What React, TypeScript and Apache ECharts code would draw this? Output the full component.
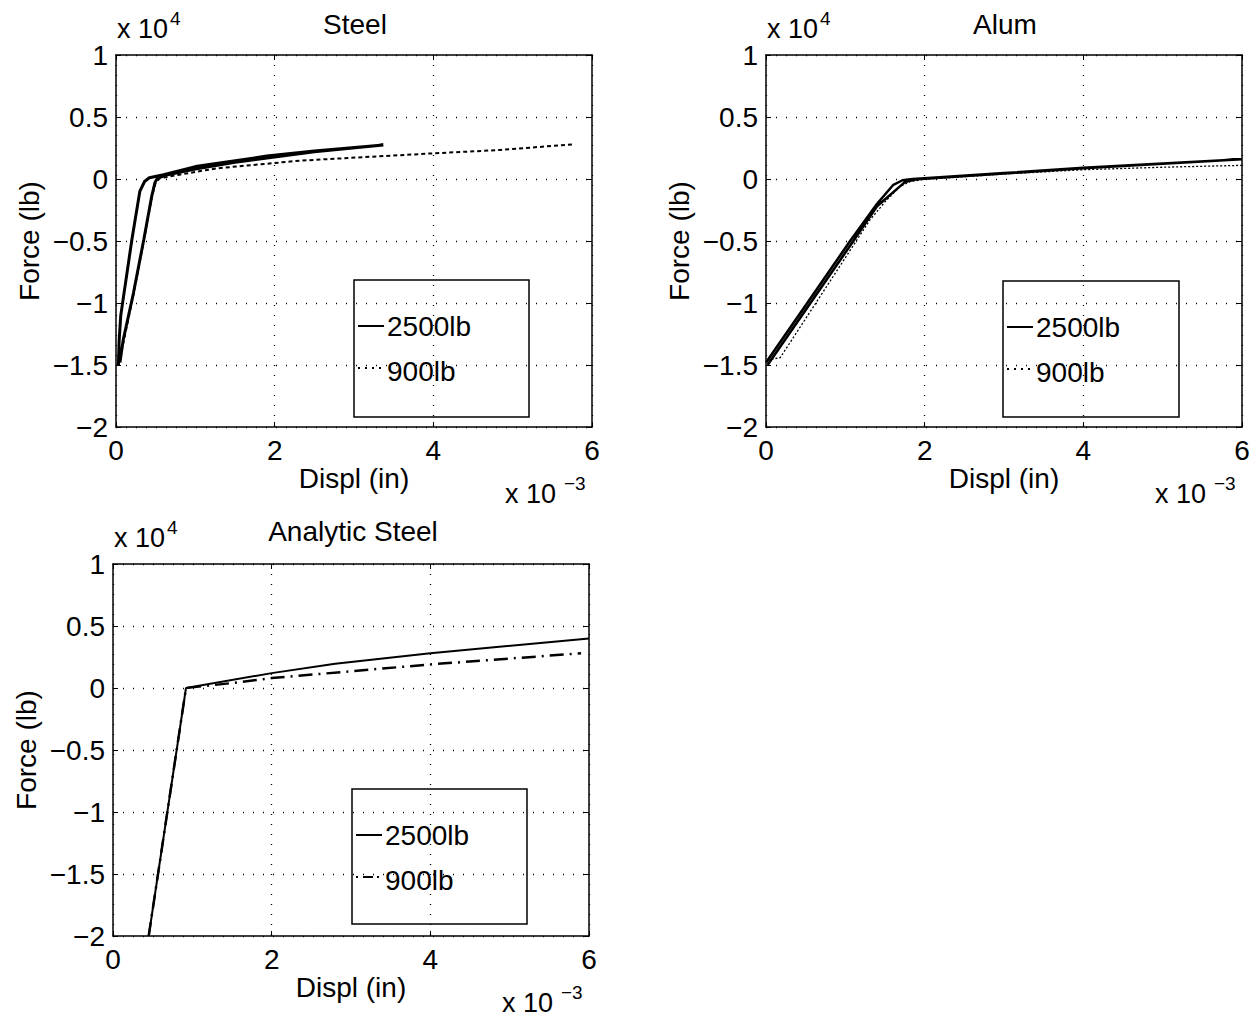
import React, { useEffect, useRef } from "react";
import * as echarts from "echarts";

const FONT = '"Liberation Sans", Arial, Helvetica, sans-serif';

// ---------- Data (x: displacement in inches, y: force in lb) ----------
// Steel, 2500lb (solid loop)
const steel2500X = [0.00003, 0.00004, 0.00006, 0.0002, 0.0003, 0.00036, 0.00042, 0.0006, 0.001, 0.0019, 0.0025, 0.00337, 0.0025, 0.0015, 0.001, 0.00065, 0.00052, 0.00049, 0.00045, 0.00035, 0.00022, 0.00009, 0.00005];
const steel2500Y = [-15000, -13000, -11000, -4900, -1000, -200, 100, 350, 1000, 1850, 2250, 2740, 2200, 1350, 800, 350, 50, -300, -1400, -4900, -9200, -13000, -14800];
// Steel, 900lb (dotted)
const steel900X = [0.00003, 0.0001, 0.00022, 0.00035, 0.00045, 0.0005, 0.00055, 0.0008, 0.00127, 0.00232, 0.004, 0.00484, 0.00577];
const steel900Y = [-15000, -13000, -9300, -5000, -1500, -300, 50, 350, 860, 1480, 2070, 2340, 2800];

// Alum, 2500lb (solid loop)
const alum2500X = [0.0, 0.00052, 0.00106, 0.0014, 0.0016, 0.00172, 0.00185, 0.003, 0.004, 0.005, 0.006, 0.005, 0.004, 0.003, 0.0019, 0.00175, 0.0014, 0.00108, 0.00055, 0.00002];
const alum2500Y = [-14800, -10000, -5000, -2000, -500, -100, 0, 480, 900, 1250, 1600, 1230, 870, 450, -20, -250, -2200, -5200, -10100, -15000];
// Alum, 900lb (dotted)
const alum900X = [0.00002, 0.00018, 0.00071, 0.00131, 0.00152, 0.00169, 0.00182, 0.002, 0.003, 0.004, 0.005, 0.006];
const alum900Y = [-14600, -14400, -9200, -3300, -1700, -600, -200, -30, 400, 750, 950, 1100];

// Analytic Steel
const anaSteel2500X = [0.00045, 0.00092, 0.002, 0.0028, 0.004, 0.006];
const anaSteel2500Y = [-20000, 0, 1200, 1950, 2800, 4000];
const anaSteel900X = [0.00045, 0.00092, 0.0015, 0.002, 0.004, 0.0059];
const anaSteel900Y = [-20000, 0, 400, 800, 1900, 2800];

// Axis ticks
const xTicks = { min: 0, max: 0.006, interval: 0.002 };
const yTicks = { min: -20000, max: 10000, interval: 5000 };

const titles = ["Steel", "Alum", "Analytic Steel"];
const legendNames = ["2500lb", "900lb"];

const zip = (xs: number[], ys: number[]) => xs.map((x, i) => [x, ys[i]]);
const fmtX = (v: number) => String(parseFloat((v * 1000).toFixed(3)));
const fmtY = (v: number) => {
  const s = String(parseFloat((v / 10000).toFixed(3)));
  return s.startsWith("-") ? "\u2212" + s.slice(1) : s;
};

const grids = [
  { left: 116, top: 55, width: 476, height: 372 },
  { left: 766, top: 55, width: 476, height: 372 },
  { left: 113, top: 564, width: 476, height: 372 },
];

export default function App() {
  const ref = useRef<HTMLDivElement>(null);
  useEffect(() => {
    if (!ref.current) return;
    const chart = echarts.init(ref.current, undefined, { renderer: "svg" });

    const xAxes: any[] = [];
    const yAxes: any[] = [];
    grids.forEach((_, i) => {
      const common = {
        type: "value",
        gridIndex: i,
        axisLine: { show: true, onZero: false, lineStyle: { color: "#000", width: 1.5 } },
        axisTick: { show: true, inside: true, length: 5, lineStyle: { color: "#000", width: 1 } },
      };
      xAxes.push({
        ...common,
        ...xTicks,
        position: "bottom",
        name: "Displ (in)",
        nameLocation: "middle",
        nameGap: 28,
        nameTextStyle: { fontSize: 28, color: "#000", fontFamily: FONT },
        axisLabel: { formatter: fmtX, fontSize: 28, color: "#000", fontFamily: FONT, margin: 9 },
        splitLine: { show: true, lineStyle: { color: "#000", type: [1, 9], width: 1.3 } },
      });
      xAxes.push({
        ...common,
        ...xTicks,
        position: "top",
        axisLabel: { show: false },
        splitLine: { show: false },
      });
      yAxes.push({
        ...common,
        ...yTicks,
        position: "left",
        name: "Force (lb)",
        nameLocation: "middle",
        nameGap: 73,
        nameTextStyle: { fontSize: 28, color: "#000", fontFamily: FONT },
        axisLabel: { formatter: fmtY, fontSize: 28, color: "#000", fontFamily: FONT, margin: 8 },
        splitLine: { show: true, lineStyle: { color: "#000", type: [1, 9], width: 1.3 } },
      });
      yAxes.push({
        ...common,
        ...yTicks,
        position: "right",
        axisLabel: { show: false },
        splitLine: { show: false },
      });
    });

    const mk = (name: string, gi: number, data: number[][], lineStyle: any) => ({
      name,
      type: "line",
      xAxisIndex: gi * 2,
      yAxisIndex: gi * 2,
      data,
      showSymbol: false,
      symbol: "none",
      clip: true,
      lineStyle: { color: "#000", ...lineStyle },
    });

    const series = [
      mk(legendNames[0], 0, zip(steel2500X, steel2500Y), { width: 3, type: "solid" }),
      mk(legendNames[1], 0, zip(steel900X, steel900Y), { width: 2, type: [4, 3] }),
      mk(legendNames[0], 1, zip(alum2500X, alum2500Y), { width: 2.5, type: "solid" }),
      mk(legendNames[1], 1, zip(alum900X, alum900Y), { width: 1.3, type: [2, 2] }),
      mk(legendNames[0], 2, zip(anaSteel2500X, anaSteel2500Y), { width: 2, type: "solid" }),
      mk(legendNames[1], 2, zip(anaSteel900X, anaSteel900Y), { width: 2.5, type: [14, 6, 2, 6] }),
    ];

    const txt = (text: string, x: number, y: number, size: number, align = "left") => ({
      type: "text",
      x,
      y,
      style: {
        text,
        fill: "#000",
        font: `${size}px ${FONT}`,
        align,
        verticalAlign: "middle",
        textAlign: align,
        textVerticalAlign: "middle",
      },
    });

    const legendBox = (bx: number, by: number, bw: number, bh: number, dash2: any) => [
      {
        type: "rect",
        shape: { x: bx, y: by, width: bw, height: bh },
        style: { fill: "none", stroke: "#000", lineWidth: 1.5 },
      },
      {
        type: "line",
        shape: { x1: bx + 4, y1: by + 46, x2: bx + 30, y2: by + 46 },
        style: { stroke: "#000", lineWidth: 2 },
      },
      txt(legendNames[0], bx + 33, by + 46, 28),
      {
        type: "line",
        shape: { x1: bx + 4, y1: by + 88, x2: bx + 30, y2: by + 88 },
        style: { stroke: "#000", lineWidth: 2, lineDash: dash2 },
      },
      txt(legendNames[1], bx + 33, by + 91, 28),
    ];

    const expo = (base: string, sup: string, baseX: number, baseY: number, supDx: number) => [
      txt(base, baseX, baseY, 27),
      txt(sup, baseX + supDx, baseY - 11, 19),
    ];

    const graphic: any[] = [
      txt(titles[0], 355, 24, 28, "center"),
      txt(titles[1], 1005, 24, 28, "center"),
      txt(titles[2], 353, 531, 28, "center"),
      ...expo("x 10", "4", 117, 29, 53),
      ...expo("x 10", "4", 767, 29, 53),
      ...expo("x 10", "4", 114, 538, 53),
      ...expo("x 10", "\u22123", 505, 494, 59),
      ...expo("x 10", "\u22123", 1155, 494, 59),
      ...expo("x 10", "\u22123", 502, 1003, 59),
      ...legendBox(354, 280, 175, 137, [2, 5]),
      ...legendBox(1003, 281, 176, 136, [2, 5]),
      ...legendBox(352, 789, 175, 135, [2, 5, 10, 4]),
    ];

    chart.setOption({
      animation: false,
      backgroundColor: "#fff",
      textStyle: { fontFamily: FONT },
      grid: grids.map((g) => ({ ...g, containLabel: false })),
      xAxis: xAxes,
      yAxis: yAxes,
      series,
      graphic,
    });
    return () => chart.dispose();
  }, []);

  return (
    <div
      ref={ref}
      style={{ position: "fixed", left: 0, top: 0, width: 1257, height: 1023, background: "#fff" }}
    />
  );
}
